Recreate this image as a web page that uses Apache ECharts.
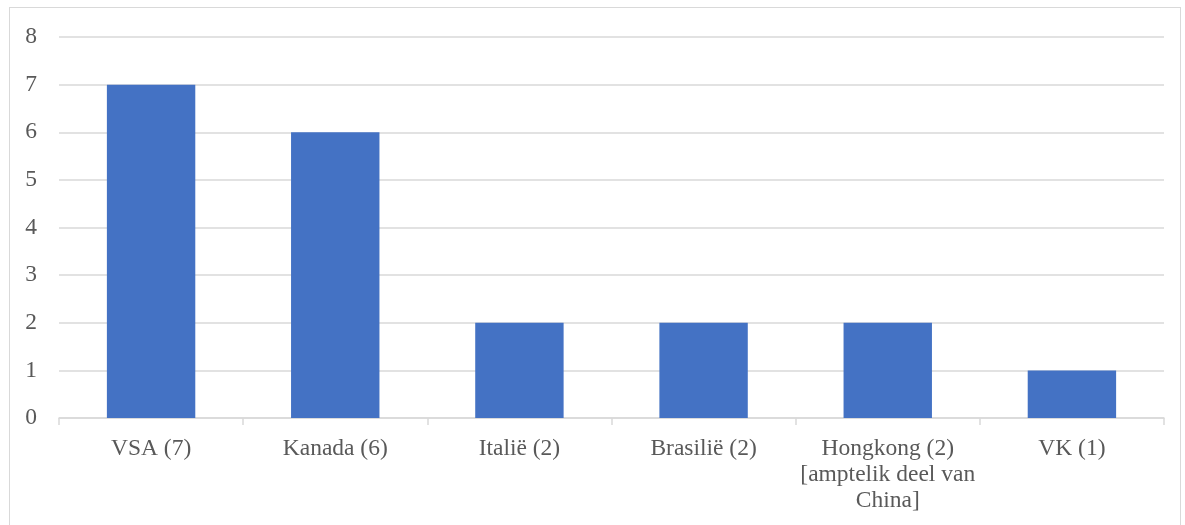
<!DOCTYPE html>
<html style="height: 100%">
<head>
    <meta charset="utf-8">
    <script src="https://cdn.jsdelivr.net/npm/echarts@6/dist/echarts.min.js"></script>
    <title>Lande</title>
</head>
<body style="height: 100%; margin: 0; background: #fff">
<div id="frame" style="position: absolute; left: 9px; top: 7px; width: 1172px; height: 530px; border: 1.5px solid #d9d9d9; box-sizing: border-box"></div>
<div id="container" style="position: absolute; left: 0; top: 0; width: 1185px; height: 525px"></div>
<script type="text/javascript">
    let categories = ['VSA (7)', 'Kanada (6)', 'Italië (2)', 'Brasilië (2)', 'Hongkong (2)\n[amptelik deel van\nChina]', 'VK (1)'];
    let values = [7, 6, 2, 2, 2, 1];
    let yTicks = [0, 8, 1]; // min, max, interval

    let chart = echarts.init(document.getElementById('container'));
    chart.setOption({
        animation: false,
        textStyle: { fontFamily: 'Liberation Serif' },
        grid: { left: 59, right: 21, top: 37, bottom: 107 },
        xAxis: {
            type: 'category',
            data: categories,
            axisLine: { lineStyle: { color: '#d9d9d9', width: 1.5 } },
            axisTick: { show: true, length: 7, lineStyle: { color: '#d9d9d9', width: 1.5 } },
            axisLabel: { color: '#595959', fontSize: 23.5, margin: 18, lineHeight: 26, interval: 0, fontFamily: 'Liberation Serif' }
        },
        yAxis: {
            type: 'value',
            min: yTicks[0], max: yTicks[1], interval: yTicks[2],
            axisLine: { show: false },
            axisTick: { show: false },
            splitLine: { lineStyle: { color: '#d9d9d9', width: 1.5 } },
            axisLabel: { color: '#595959', fontSize: 23.5, margin: 22, fontFamily: 'Liberation Serif' }
        },
        series: [{
            type: 'bar',
            data: values,
            barCategoryGap: '52%',
            itemStyle: { color: '#4472c4' }
        }]
    });
</script>
</body>
</html>
